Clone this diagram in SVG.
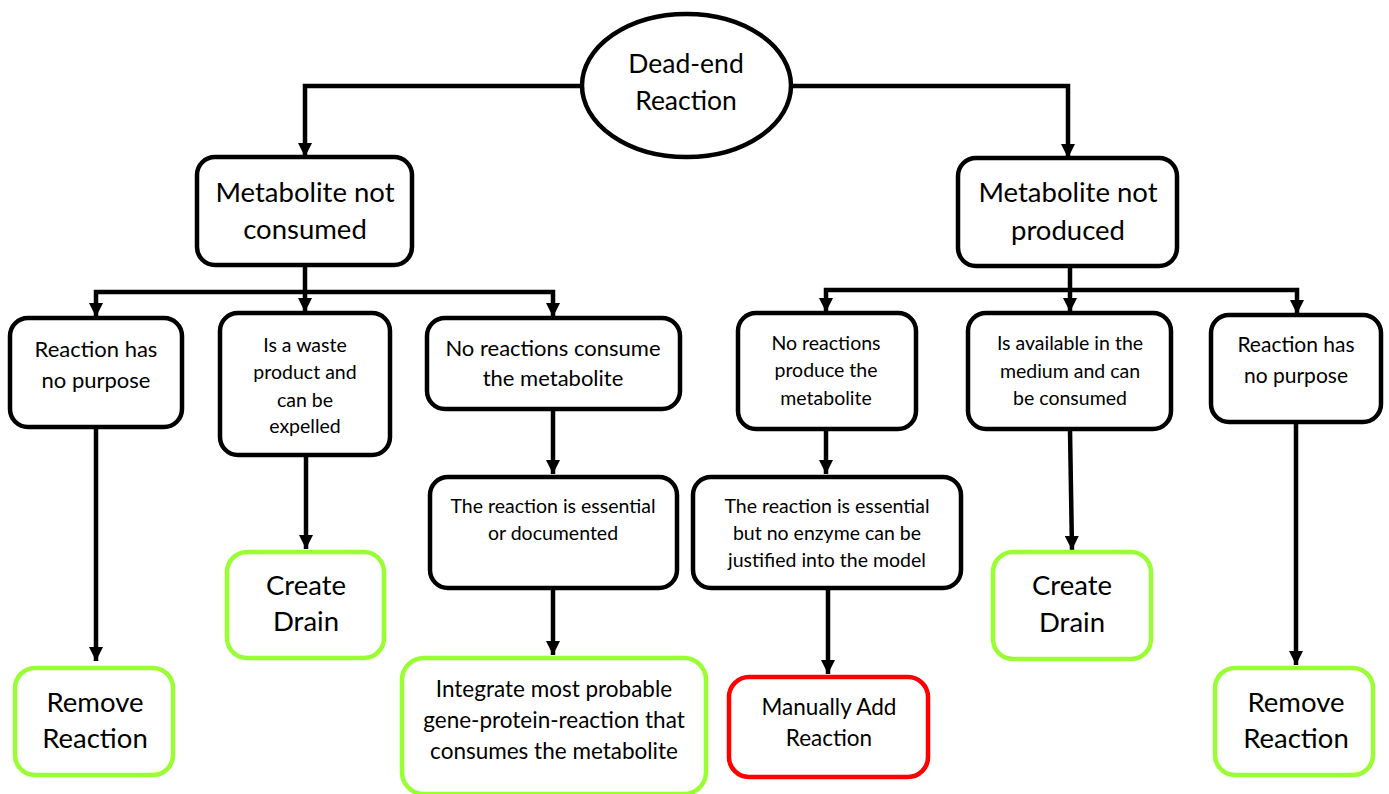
<svg xmlns="http://www.w3.org/2000/svg" width="1389" height="794" viewBox="0 0 1389 794">
<style>
  text { font-family: Lato, "Open Sans", "Liberation Sans", sans-serif; fill: #000; text-anchor: middle; }
  .blk { fill: #fff; stroke: #000; stroke-width: 4.5; }
  .grn { fill: #fff; stroke: #99FF33; stroke-width: 4.5; }
  .red { fill: #fff; stroke: #FF0000; stroke-width: 4.5; }
  .conn { fill: none; stroke: #000; stroke-width: 4.5; stroke-linejoin: miter; }
  .fbig { font-size: 27.5px; }
  .fde { font-size: 26.5px; }
  .f22 { font-size: 22px; }
  .f21 { font-size: 21px; }
  .f19 { font-size: 19.5px; }
  .f23 { font-size: 22.5px; }
</style>
<defs>
  <marker id="arr" viewBox="0 0 14 14" markerWidth="14" markerHeight="14" markerUnits="userSpaceOnUse" refX="14" refY="7" orient="auto">
    <path d="M0,0 L14,7 L0,14 z" fill="#000"/>
  </marker>
</defs>
<rect width="1389" height="794" fill="#fff"/>

<g id="connectors">
  <path class="conn" d="M582,86 H305 V157" marker-end="url(#arr)"/>
  <path class="conn" d="M791,86 H1068 V158" marker-end="url(#arr)"/>
  <path class="conn" d="M305,266 V312" marker-end="url(#arr)"/>
  <path class="conn" d="M305,292 H96 V317" marker-end="url(#arr)"/>
  <path class="conn" d="M305,292 H553 V317" marker-end="url(#arr)"/>
  <path class="conn" d="M1070,267 V312" marker-end="url(#arr)"/>
  <path class="conn" d="M1070,290 H826 V312" marker-end="url(#arr)"/>
  <path class="conn" d="M1070,290 H1297 V314" marker-end="url(#arr)"/>
  <path class="conn" d="M96,427 V661" marker-end="url(#arr)"/>
  <path class="conn" d="M306,455 V549" marker-end="url(#arr)"/>
  <path class="conn" d="M553,409 V474" marker-end="url(#arr)"/>
  <path class="conn" d="M553,588 V655" marker-end="url(#arr)"/>
  <path class="conn" d="M826,430 V474" marker-end="url(#arr)"/>
  <path class="conn" d="M828,588 V674" marker-end="url(#arr)"/>
  <path class="conn" d="M1070,430 L1072,550" marker-end="url(#arr)"/>
  <path class="conn" d="M1296,422 V665" marker-end="url(#arr)"/>
</g>

<g id="dead-end">
  <ellipse class="blk" cx="686.5" cy="85.5" rx="104.5" ry="71.5"/>
  <text class="fde" x="686" y="73">Dead-end</text>
  <text class="fde" x="686" y="110">Reaction</text>
</g>

<g id="not-consumed">
  <rect class="blk" x="197" y="157" width="215" height="108" rx="18"/>
  <text class="fbig" x="305" y="202">Metabolite not</text>
  <text class="fbig" x="305" y="239">consumed</text>
</g>

<g id="not-produced">
  <rect class="blk" x="958" y="158" width="219" height="108" rx="18"/>
  <text class="fbig" x="1068" y="202">Metabolite not</text>
  <text class="fbig" x="1068" y="240">produced</text>
</g>

<g id="no-purpose-left">
  <rect class="blk" x="10" y="318" width="172" height="109" rx="18"/>
  <text class="f22" x="96" y="357">Reaction has</text>
  <text class="f22" x="96" y="388">no purpose</text>
</g>

<g id="waste">
  <rect class="blk" x="220" y="313" width="170" height="142" rx="18"/>
  <text class="f19" x="305" y="352">Is a waste</text>
  <text class="f19" x="305" y="379">product and</text>
  <text class="f19" x="305" y="407">can be</text>
  <text class="f19" x="305" y="433">expelled</text>
</g>

<g id="no-consume">
  <rect class="blk" x="427" y="318" width="253" height="91" rx="18"/>
  <text class="f22" x="553" y="356">No reactions consume</text>
  <text class="f22" x="553" y="386">the metabolite</text>
</g>

<g id="no-produce">
  <rect class="blk" x="738" y="313" width="178" height="116" rx="18"/>
  <text class="f19" x="826" y="350">No reactions</text>
  <text class="f19" x="826" y="377">produce the</text>
  <text class="f19" x="826" y="405">metabolite</text>
</g>

<g id="available">
  <rect class="blk" x="968" y="313" width="203" height="116" rx="18"/>
  <text class="f19" x="1070" y="350">Is available in the</text>
  <text class="f19" x="1070" y="378">medium and can</text>
  <text class="f19" x="1070" y="405">be consumed</text>
</g>

<g id="no-purpose-right">
  <rect class="blk" x="1211" y="315" width="170" height="107" rx="18"/>
  <text class="f21" x="1296" y="352">Reaction has</text>
  <text class="f21" x="1296" y="383">no purpose</text>
</g>

<g id="essential-documented">
  <rect class="blk" x="430" y="477" width="247" height="111" rx="18"/>
  <text class="f19" x="553" y="513">The reaction is essential</text>
  <text class="f19" x="553" y="540">or documented</text>
</g>

<g id="essential-no-enzyme">
  <rect class="blk" x="693" y="477" width="268" height="111" rx="18"/>
  <text class="f19" x="827" y="513">The reaction is essential</text>
  <text class="f19" x="827" y="540">but no enzyme can be</text>
  <text class="f19" x="827" y="567">justified into the model</text>
</g>

<g id="create-drain-left">
  <rect class="grn" x="227" y="552" width="157" height="106" rx="20"/>
  <text class="fbig" x="306" y="595">Create</text>
  <text class="fbig" x="306" y="631">Drain</text>
</g>

<g id="remove-left">
  <rect class="grn" x="15" y="668" width="158" height="107" rx="20"/>
  <text class="fbig" x="95" y="712">Remove</text>
  <text class="fbig" x="95" y="748">Reaction</text>
</g>

<g id="integrate">
  <rect class="grn" x="402" y="658" width="304" height="136" rx="22"/>
  <text class="f23" x="554" y="697">Integrate most probable</text>
  <text class="f23" x="554" y="728">gene-protein-reaction that</text>
  <text class="f23" x="554" y="759">consumes the metabolite</text>
</g>

<g id="manual-add">
  <rect class="red" x="729" y="677" width="199" height="100" rx="20"/>
  <text class="f23" x="829" y="715">Manually Add</text>
  <text class="f23" x="829" y="746">Reaction</text>
</g>

<g id="create-drain-right">
  <rect class="grn" x="993" y="552" width="158" height="107" rx="20"/>
  <text class="fbig" x="1072" y="595">Create</text>
  <text class="fbig" x="1072" y="632">Drain</text>
</g>

<g id="remove-right">
  <rect class="grn" x="1215" y="668" width="158" height="107" rx="20"/>
  <text class="fbig" x="1296" y="712">Remove</text>
  <text class="fbig" x="1296" y="748">Reaction</text>
</g>
</svg>
